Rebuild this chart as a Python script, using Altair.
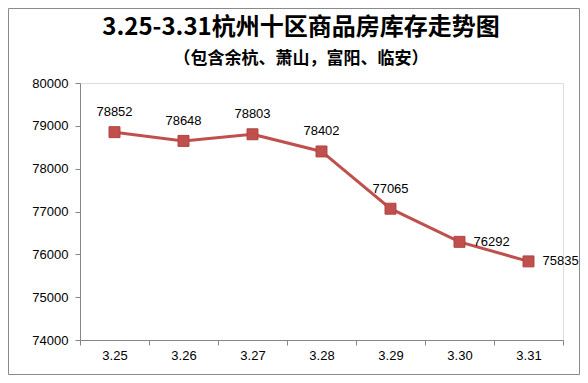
import altair as alt
import pandas as pd

dates = ["3.25", "3.26", "3.27", "3.28", "3.29", "3.30", "3.31"]
stock = [78852, 78648, 78803, 78402, 77065, 76292, 75835]
y_ticks = [74000, 75000, 76000, 77000, 78000, 79000, 80000]
right_labelled = ["3.30", "3.31"]

title_text = "3.25-3.31杭州十区商品房库存走势图"
subtitle_text = "（包含余杭、萧山，富阳、临安）"

df = pd.DataFrame({"date": dates, "stock": stock})

W, H = 483, 257
PL, PT, PR, PB = 72, 75, 17, 35
RED = "#C0504D"
AXIS = "#868686"
NUM_FONT = "Liberation Sans"

x = alt.X("date:N", sort=dates, title=None,
          scale=alt.Scale(paddingInner=0, paddingOuter=0),
          axis=alt.Axis(labelAngle=0, tickBand="extent", tickSize=5,
                        labelPadding=4, labelFont=NUM_FONT, labelFontSize=13,
                        labelColor="#000", domainColor=AXIS, tickColor=AXIS,
                        grid=False))
y = alt.Y("stock:Q", title=None,
          scale=alt.Scale(domain=[74000, 80000], nice=False, zero=False),
          axis=alt.Axis(values=y_ticks, tickSize=5, labelPadding=7,
                        labelFont=NUM_FONT, labelFontSize=13, labelColor="#000",
                        domainColor=AXIS, tickColor=AXIS, grid=False, format="d"))

base = alt.Chart(df)

line = base.mark_line(color=RED, strokeWidth=3).encode(x=x, y=y)
points = base.mark_point(shape="square", filled=True, size=120, color=RED,
                         stroke="#B04540", strokeWidth=1, opacity=1).encode(x=x, y=y)

above = base.transform_filter(
    ~alt.FieldOneOfPredicate(field="date", oneOf=right_labelled)
).mark_text(dy=-20, baseline="middle", align="center", font=NUM_FONT,
            fontSize=13, color="#000").encode(x=x, y=y, text="stock:Q")
right = base.transform_filter(
    alt.FieldOneOfPredicate(field="date", oneOf=right_labelled)
).mark_text(dx=14, baseline="middle", align="left", font=NUM_FONT,
            fontSize=13, color="#000").encode(x=x, y=y, text="stock:Q")

one = pd.DataFrame({"t": [title_text], "s": [subtitle_text]})
title = alt.Chart(one).mark_text(font="Noto Sans CJK SC", fontWeight="bold",
                                 fontSize=24, color="#000", baseline="middle",
                                 align="center").encode(
    x=alt.value(221), y=alt.value(-55), text="t:N")
subtitle = alt.Chart(one).mark_text(font="Noto Sans CJK SC", fontWeight="bold",
                                    fontSize=17, color="#000", baseline="middle",
                                    align="center").encode(
    x=alt.value(221), y=alt.value(-24), text="s:N")

frame = alt.Chart(one).mark_rect(fillOpacity=0, stroke="#8A8A8A", strokeWidth=1).encode(
    x=alt.value(-PL + 0.5), x2=alt.value(W + PR - 0.5),
    y=alt.value(-PT + 0.5), y2=alt.value(H + PB - 0.5))

chart = alt.layer(frame, line, points, above, right, title, subtitle).properties(
    width=W, height=H,
    autosize=alt.AutoSizeParams(type="none"),
    padding={"left": PL, "top": PT, "right": PR, "bottom": PB},
).configure_view(stroke=None).configure(background="white")

chart.save("out.html", embed_options={"renderer": "svg", "actions": False})
